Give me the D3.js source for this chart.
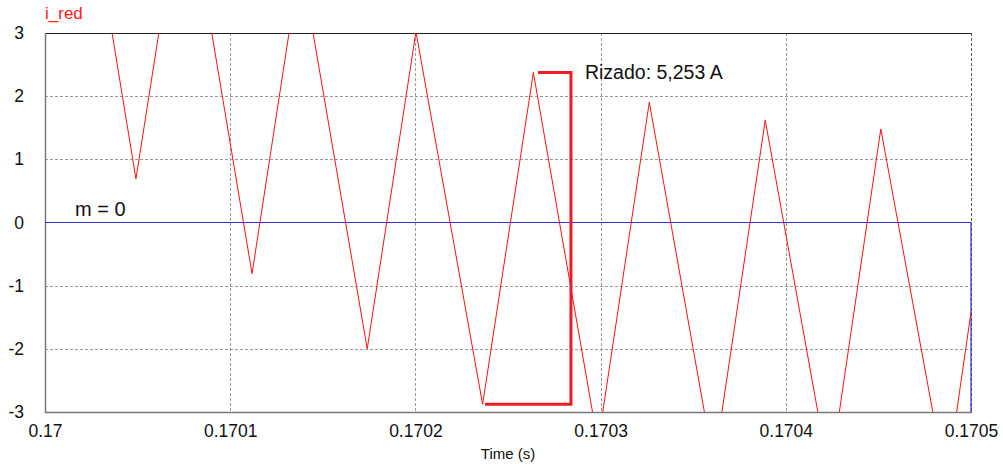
<!DOCTYPE html>
<html>
<head>
<meta charset="utf-8">
<script src="https://cdn.jsdelivr.net/npm/d3@7"></script>
<style>
  html, body { margin: 0; padding: 0; background: #fff; }
  svg { display: block; font-family: "Liberation Sans", Arial, sans-serif; }
</style>
</head>
<body>
<svg id="chart" width="1003" height="468"></svg>
<script>
// Inductor current i_red: triangle-wave vertices (time in s, current in A)
const iRedTime = [0.1700000, 0.1700128, 0.1700491, 0.1700753, 0.1701118, 0.1701379,
  0.1701740, 0.1702003, 0.1702363, 0.1702637, 0.1702986, 0.1703263, 0.1703612,
  0.1703889, 0.1704237, 0.1704513, 0.1704866, 0.1705000];
const iRedValue = [4.80, 7.20, 0.69, 5.58, -0.81, 4.17,
  -2.00, 3.02, -2.878, 2.375, -3.50, 1.905, -3.85,
  1.62, -4.04, 1.48, -4.15, -1.42];

// Modulation signal m (held at zero, drops at the end of the window)
const mTime = [0.1700, 0.1705, 0.1705];
const mValue = [0, 0, -3];

// Ripple measurement bracket
const rippleLabel = "Rizado: 5,253 A";
const ripplePeak = 2.375;
const rippleTrough = -2.878;
const rippleTopStart = 0.1702662;
const rippleBottomStart = 0.1702376;
const rippleBracketTime = 0.1702840;

// Axis ticks
const xTicks = [0.17, 0.1701, 0.1702, 0.1703, 0.1704, 0.1705];
const xTickLabels = ["0.17", "0.1701", "0.1702", "0.1703", "0.1704", "0.1705"];
const yTicks = [3, 2, 1, 0, -1, -2, -3];
const yTickLabels = ["3", "2", "1", "0", "-1", "-2", "-3"];

const svg = d3.select("#chart");
const plotLeft = 45, plotRight = 971, plotTop = 33, plotBottom = 412;

const x = d3.scaleLinear().domain([0.17, 0.1705]).range([plotLeft, plotRight]);
const y = d3.scaleLinear().domain([-3, 3]).range([plotBottom, plotTop]);

svg.append("defs").append("clipPath").attr("id", "plotClip")
  .append("rect").attr("x", plotLeft).attr("y", plotTop)
  .attr("width", plotRight - plotLeft + 1.5).attr("height", plotBottom - plotTop);

// Grid lines (the zero line is drawn by the m trace)
const grid = svg.append("g").attr("stroke", "#9a9a9a").attr("stroke-width", 1)
  .attr("stroke-dasharray", "3,2");
grid.selectAll("line.v").data(xTicks.slice(1, -1)).join("line").attr("class", "v")
  .attr("x1", d => Math.round(x(d)) + 0.5).attr("x2", d => Math.round(x(d)) + 0.5)
  .attr("y1", plotTop).attr("y2", plotBottom);
grid.selectAll("line.h").data(yTicks.slice(1, -1).filter(d => d !== 0)).join("line").attr("class", "h")
  .attr("y1", d => Math.round(y(d)) + 0.5).attr("y2", d => Math.round(y(d)) + 0.5)
  .attr("x1", plotLeft).attr("x2", plotRight);

// Frame
svg.append("line").attr("x1", plotLeft).attr("x2", plotRight).attr("y1", plotTop + 0.5).attr("y2", plotTop + 0.5)
  .attr("stroke", "#222").attr("stroke-width", 1);
svg.append("line").attr("x1", plotRight + 0.5).attr("x2", plotRight + 0.5).attr("y1", plotTop).attr("y2", plotBottom)
  .attr("stroke", "#555").attr("stroke-width", 1).attr("stroke-dasharray", "3,2");
svg.append("line").attr("x1", plotLeft + 0.5).attr("x2", plotLeft + 0.5).attr("y1", plotTop).attr("y2", plotBottom + 1)
  .attr("stroke", "#777").attr("stroke-width", 1.5);
svg.append("line").attr("x1", plotLeft).attr("x2", plotRight + 1).attr("y1", plotBottom + 0.5).attr("y2", plotBottom + 0.5)
  .attr("stroke", "#777").attr("stroke-width", 1.5);

const line = d3.line().x(d => x(d[0])).y(d => y(d[1]));
const plot = svg.append("g").attr("clip-path", "url(#plotClip)");

// m signal
plot.append("path").datum(d3.zip(mTime, mValue))
  .attr("d", line).attr("fill", "none")
  .attr("stroke", "#3030d8").attr("stroke-width", 1.2);

// i_red current
plot.append("path").datum(d3.zip(iRedTime, iRedValue))
  .attr("d", line).attr("fill", "none")
  .attr("stroke", "#ff1010").attr("stroke-width", 1);

// Ripple bracket
const bracket = [
  [rippleTopStart, ripplePeak],
  [rippleBracketTime, ripplePeak],
  [rippleBracketTime, rippleTrough],
  [rippleBottomStart, rippleTrough]
];
svg.append("path").datum(bracket).attr("d", line).attr("fill", "none")
  .attr("stroke", "#ee1c24").attr("stroke-width", 3);
svg.append("text").attr("x", x(rippleBracketTime) + 14).attr("y", y(ripplePeak) + 7)
  .attr("font-size", 19.5).attr("fill", "#111").text(rippleLabel);

// Axes labels
const xAxis = d3.axisBottom(x).tickValues(xTicks)
  .tickFormat((d, i) => xTickLabels[i]).tickSize(0).tickPadding(13);
svg.append("g").attr("transform", `translate(0,${plotBottom})`).call(xAxis)
  .call(g => g.select(".domain").remove())
  .selectAll("text").attr("font-size", 17.5).attr("fill", "#111")
  .attr("font-family", "'Liberation Sans', Arial, sans-serif");

const yAxis = d3.axisLeft(y).tickValues(yTicks)
  .tickFormat((d, i) => yTickLabels[i]).tickSize(0).tickPadding(21);
svg.append("g").attr("transform", `translate(${plotLeft},0)`).call(yAxis)
  .call(g => g.select(".domain").remove())
  .selectAll("text").attr("font-size", 17.5).attr("fill", "#111")
  .attr("font-family", "'Liberation Sans', Arial, sans-serif");

svg.append("text").attr("x", 508).attr("y", 459).attr("text-anchor", "middle")
  .attr("font-size", 15).attr("fill", "#111").text("Time (s)");

svg.append("text").attr("x", 45).attr("y", 19)
  .attr("font-size", 17).attr("fill", "#ff2020").text("i_red");

svg.append("text").attr("x", 75).attr("y", y(0) - 7)
  .attr("font-size", 20).attr("fill", "#111").text("m = 0");
</script>
</body>
</html>
